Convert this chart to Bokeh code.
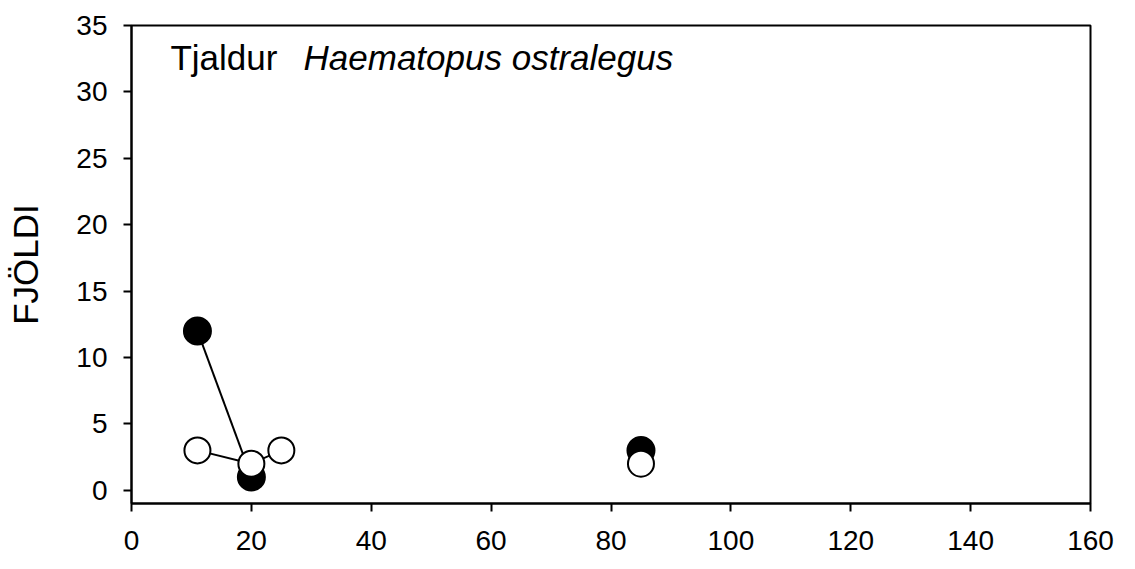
import numpy as np
from bokeh.plotting import figure
from bokeh.models import Label, FixedTicker, Range1d
from bokeh.embed import file_html
from bokeh.resources import INLINE

# data (NaN breaks the connecting line)
black_x = [11, 20, np.nan, 85]
black_y = [12, 1, np.nan, 3]
white_x = [11, 20, 25, np.nan, 85]
white_y = [3, 2, 3, np.nan, 2]

x_ticks = [0, 20, 40, 60, 80, 100, 120, 140, 160]
y_ticks = [0, 5, 10, 15, 20, 25, 30, 35]

title_common = "Tjaldur"
title_latin = "Haematopus ostralegus"
y_label = "FJÖLDI"

FONT = "Liberation Sans"

p = figure(width=1127, height=561, output_backend="svg", toolbar_location=None,
           x_range=Range1d(0, 160), y_range=Range1d(-1, 35),
           min_border_left=131, min_border_right=37, min_border_top=25, min_border_bottom=58)

p.xgrid.visible = False
p.ygrid.visible = False
p.background_fill_color = "white"
p.border_fill_color = "white"
p.outline_line_color = "black"
p.outline_line_width = 2

for ax in (p.xaxis[0], p.yaxis[0]):
    ax.axis_line_width = 2
    ax.axis_line_color = "black"
    ax.major_tick_line_width = 2
    ax.major_tick_line_color = "black"
    ax.major_tick_out = 8
    ax.major_tick_in = 0
    ax.minor_tick_line_color = None
    ax.major_label_text_font = FONT
    ax.major_label_text_font_size = "28px"
    ax.major_label_text_color = "black"

p.xaxis[0].ticker = FixedTicker(ticks=x_ticks)
p.yaxis[0].ticker = FixedTicker(ticks=y_ticks)
p.xaxis[0].major_label_standoff = 19
p.yaxis[0].major_label_standoff = 16

p.yaxis[0].axis_label = y_label
p.yaxis[0].axis_label_text_font = FONT
p.yaxis[0].axis_label_text_font_size = "35px"
p.yaxis[0].axis_label_text_font_style = "normal"
p.yaxis[0].axis_label_text_color = "black"
p.yaxis[0].axis_label_standoff = 28

# black series
p.line(black_x, black_y, line_color="black", line_width=2)
bx = [x for x in black_x if not np.isnan(x)]
by = [y for y in black_y if not np.isnan(y)]
p.scatter(bx, by, size=27, fill_color="black", line_color="black", line_width=2)

# white series
p.line(white_x, white_y, line_color="black", line_width=2)
wx = [x for x in white_x if not np.isnan(x)]
wy = [y for y in white_y if not np.isnan(y)]
p.scatter(wx, wy, size=26, fill_color="white", line_color="black", line_width=2)

p.add_layout(Label(x=6.5, y=32.6, text=title_common, text_font=FONT,
                   text_font_size="35px", text_color="black", text_baseline="alphabetic"))
p.add_layout(Label(x=28.7, y=32.6, text=title_latin, text_font=FONT,
                   text_font_size="35px", text_font_style="italic", text_color="black",
                   text_baseline="alphabetic"))

open("out.html", "w").write(file_html(p, INLINE))
